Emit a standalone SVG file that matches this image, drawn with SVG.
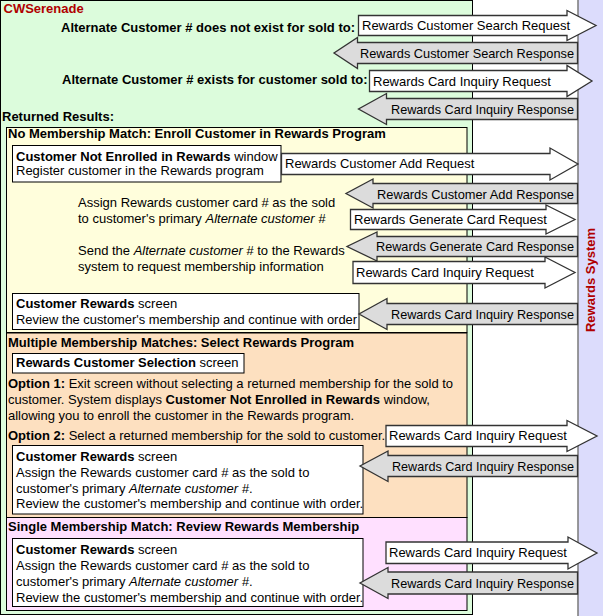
<svg xmlns="http://www.w3.org/2000/svg" width="603" height="616" viewBox="0 0 603 616">
<style>
text{font-family:"Liberation Sans",Arial,sans-serif;font-size:13px;fill:#000}
.b{font-weight:bold}
.i{font-style:italic}
.red{fill:#b00000}
.box{fill:#fff;stroke:#000;stroke-width:1}
.panel{stroke:#000;stroke-width:1}
.req{fill:#fff;stroke:#333;stroke-width:1.3}
.rsp{fill:#dcdcdc;stroke:#333;stroke-width:1.3}
</style>
<rect width="603" height="616" fill="#fff"/>
<g id="cwserenade-lane">
<rect x="0.5" y="0.5" width="472" height="614" fill="#dcfcdc" stroke="#000"/>
<text x="3.5" y="13" class="b red">CWSerenade</text>
</g>
<g id="rewards-system-lane">
<rect x="578" y="-1" width="26" height="618" fill="#dcdcfc" stroke="#7a7a7a" stroke-width="1.5"/>
<text transform="translate(595,280) rotate(-90)" text-anchor="middle" class="b red">Rewards System</text>
</g>
<g id="hdr-not-exist"><text x="61" y="32" class="b">Alternate Customer # does not exist for sold to:</text></g>
<g id="hdr-exists"><text x="62" y="84" class="b">Alternate Customer # exists for customer sold to:</text></g>
<g id="returned-results"><text x="2" y="120.5" class="b">Returned Results:</text></g>

<g id="no-match-panel">
<rect x="6.5" y="127.5" width="460.5" height="205" fill="#fffedc" class="panel"/>
<text x="8" y="137.5" class="b">No Membership Match: Enroll Customer in Rewards Program</text>
</g>
<g id="not-enrolled-window">
<rect x="12.5" y="145.5" width="268.5" height="36.5" class="box"/>
<text x="16" y="160.5"><tspan class="b">Customer Not Enrolled in Rewards</tspan> window</text>
<text x="16" y="174.5">Register customer in the Rewards program</text>
</g>
<g id="assign-note">
<text x="78" y="207">Assign Rewards customer card # as the sold</text>
<text x="78" y="223">to customer's primary <tspan class="i">Alternate customer #</tspan></text>
</g>
<g id="send-note">
<text x="78" y="255">Send the <tspan class="i">Alternate customer #</tspan> to the Rewards</text>
<text x="78" y="271">system to request membership information</text>
</g>
<g id="customer-rewards-1">
<rect x="12.5" y="293.5" width="346.5" height="36" class="box"/>
<text x="16" y="308"><tspan class="b">Customer Rewards</tspan> screen</text>
<text x="16" y="324" textLength="341" lengthAdjust="spacingAndGlyphs">Review the customer's membership and continue with order</text>
</g>

<g id="multiple-match-panel">
<rect x="6.5" y="333" width="460.5" height="184.5" fill="#fde0c0" class="panel"/>
<text x="8" y="346.5" class="b">Multiple Membership Matches: Select Rewards Program</text>
</g>
<g id="selection-screen">
<rect x="12.5" y="353.5" width="231.5" height="19.5" class="box"/>
<text x="16" y="367"><tspan class="b">Rewards Customer Selection</tspan> screen</text>
</g>
<g id="option-1">
<text x="8" y="387.5"><tspan class="b">Option 1:</tspan> Exit screen without selecting a returned membership for the sold to</text>
<text x="8" y="403.5">customer. System displays <tspan class="b">Customer Not Enrolled in Rewards</tspan> window,</text>
<text x="8" y="419.5">allowing you to enroll the customer in the Rewards program.</text>
</g>
<g id="option-2">
<text x="8" y="440"><tspan class="b">Option 2:</tspan> Select a returned membership for the sold to customer.</text>
</g>
<g id="customer-rewards-2">
<rect x="12.5" y="445.5" width="350.5" height="68.5" class="box"/>
<text x="16" y="460.5"><tspan class="b">Customer Rewards</tspan> screen</text>
<text x="16" y="476.5">Assign the Rewards customer card # as the sold to</text>
<text x="16" y="492.5">customer's primary <tspan class="i">Alternate customer #</tspan>.</text>
<text x="16" y="508">Review the customer's membership and continue with order.</text>
</g>

<g id="single-match-panel">
<rect x="6.5" y="517.5" width="460.5" height="93" fill="#ffe0ff" class="panel"/>
<text x="8" y="531" class="b">Single Membership Match: Review Rewards Membership</text>
</g>
<g id="customer-rewards-3">
<rect x="12.5" y="538.5" width="350.5" height="68" class="box"/>
<text x="16" y="554"><tspan class="b">Customer Rewards</tspan> screen</text>
<text x="16" y="570">Assign the Rewards customer card # as the sold to</text>
<text x="16" y="586">customer's primary <tspan class="i">Alternate customer #</tspan>.</text>
<text x="16" y="602">Review the customer's membership and continue with order.</text>
</g>

<g id="connectors">
<g id="c-search-req"><path class="req" d="M358.5 15.5 H567 V10.5 L596 25.5 L567 40.5 V35.5 H358.5 Z"/><text x="362" y="30">Rewards Customer Search Request</text></g>
<g id="c-search-rsp"><path class="rsp" d="M577.5 42.5 H357.5 V37.5 L334 53 L357.5 68.5 V63.5 H577.5 Z"/><text x="360" y="57.5" textLength="214" lengthAdjust="spacingAndGlyphs">Rewards Customer Search Response</text></g>
<g id="c-inq-req-1"><path class="req" d="M369.5 70.5 H567 V65.5 L592 81 L567 96.5 V91.5 H369.5 Z"/><text x="373" y="85.5">Rewards Card Inquiry Request</text></g>
<g id="c-inq-rsp-1"><path class="rsp" d="M577.5 98.5 H386.5 V93.5 L358.5 109 L386.5 124.5 V119.5 H577.5 Z"/><text x="391" y="113.5" textLength="183" lengthAdjust="spacingAndGlyphs">Rewards Card Inquiry Response</text></g>
<g id="c-add-req"><path class="req" d="M281.5 153.5 H550 V148 L578 164 L550 180 V174.5 H281.5 Z"/><text x="285" y="168">Rewards Customer Add Request</text></g>
<g id="c-add-rsp"><path class="rsp" d="M577.5 183.5 H373 V179 L346 193.5 L373 208 V203.5 H577.5 Z"/><text x="377" y="198.5" textLength="197" lengthAdjust="spacingAndGlyphs">Rewards Customer Add Response</text></g>
<g id="c-gen-req"><path class="req" d="M350.5 209.5 H546 V205 L575 219.5 L546 234 V229.5 H350.5 Z"/><text x="354" y="224">Rewards Generate Card Request</text></g>
<g id="c-gen-rsp"><path class="rsp" d="M577.5 236.5 H377 V232 L347 246.5 L377 261 V256.5 H577.5 Z"/><text x="376" y="251" textLength="198" lengthAdjust="spacingAndGlyphs">Rewards Generate Card Response</text></g>
<g id="c-inq-req-2"><path class="req" d="M353 261.5 H545 V257 L575 272.5 L545 288 V283.5 H353 Z"/><text x="356" y="277">Rewards Card Inquiry Request</text></g>
<g id="c-inq-rsp-2"><path class="rsp" d="M577.5 303.5 H387 V298.5 L359 314 L387 329.5 V324.5 H577.5 Z"/><text x="391" y="318.5" textLength="183" lengthAdjust="spacingAndGlyphs">Rewards Card Inquiry Response</text></g>
<g id="c-inq-req-3"><path class="req" d="M386 425.5 H567 V420.5 L597 436 L567 451.5 V446.5 H386 Z"/><text x="389" y="440">Rewards Card Inquiry Request</text></g>
<g id="c-inq-rsp-3"><path class="rsp" d="M577.5 455.5 H388 V451 L360 466 L388 481.5 V476.5 H577.5 Z"/><text x="392" y="470.5" textLength="182" lengthAdjust="spacingAndGlyphs">Rewards Card Inquiry Response</text></g>
<g id="c-inq-req-4"><path class="req" d="M386 542 H568 V537 L597 553 L568 569 V563.5 H386 Z"/><text x="389" y="557">Rewards Card Inquiry Request</text></g>
<g id="c-inq-rsp-4"><path class="rsp" d="M577.5 572 H388 V567.5 L360 583 L388 598.5 V594 H577.5 Z"/><text x="391" y="587.5" textLength="183" lengthAdjust="spacingAndGlyphs">Rewards Card Inquiry Response</text></g>
</g>
</svg>
